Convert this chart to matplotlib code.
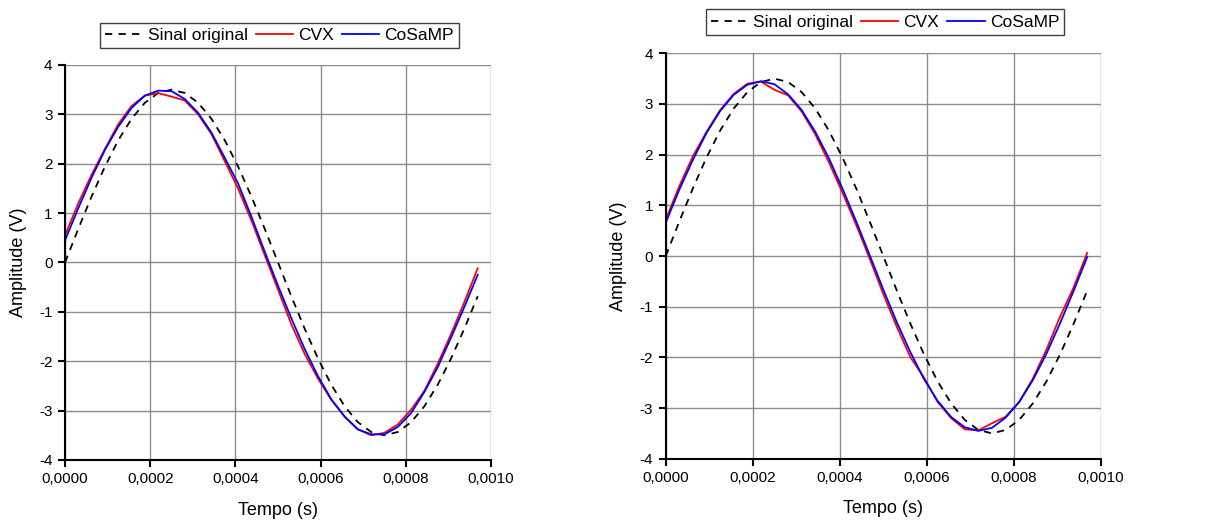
import matplotlib
matplotlib.use("Agg")
import matplotlib.pyplot as plt
from matplotlib.ticker import FuncFormatter, MultipleLocator
import numpy as np

plt.rcParams['font.family'] = ['Liberation Sans', 'DejaVu Sans']
plt.rcParams['axes.unicode_minus'] = False

# sample times (s), step 1/32000
t = np.arange(32) * 0.00003125

# left panel
orig_left = [0.0, 0.683, 1.339, 1.944, 2.475, 2.910, 3.234, 3.433, 3.5, 3.433, 3.234, 2.910,
             2.475, 1.944, 1.339, 0.683, 0.0, -0.683, -1.339, -1.944, -2.475, -2.910, -3.234,
             -3.433, -3.5, -3.433, -3.234, -2.910, -2.475, -1.944, -1.339, -0.683]
cvx_left = [0.55, 1.2, 1.78, 2.3, 2.8, 3.17, 3.38, 3.43, 3.36, 3.28, 3.0, 2.6,
            2.05, 1.5, 0.85, 0.15, -0.55, -1.25, -1.85, -2.35, -2.78, -3.12, -3.38,
            -3.5, -3.45, -3.28, -2.98, -2.6, -2.05, -1.45, -0.8, -0.12]
cosamp_left = [0.45, 1.1, 1.72, 2.28, 2.75, 3.13, 3.38, 3.48, 3.47, 3.31, 3.03, 2.63,
               2.12, 1.6, 0.93, 0.22, -0.47, -1.13, -1.75, -2.3, -2.77, -3.12, -3.38,
               -3.48, -3.48, -3.33, -3.05, -2.62, -2.12, -1.52, -0.9, -0.25]

# right panel
orig_right = orig_left
cvx_right = [0.72, 1.38, 1.97, 2.45, 2.88, 3.2, 3.4, 3.44, 3.28, 3.17, 2.85, 2.4,
             1.85, 1.25, 0.62, -0.05, -0.75, -1.4, -2.0, -2.4, -2.88, -3.2, -3.42,
             -3.44, -3.3, -3.17, -2.88, -2.42, -1.85, -1.2, -0.62, 0.06]
cosamp_right = [0.66, 1.31, 1.9, 2.43, 2.86, 3.18, 3.38, 3.45, 3.39, 3.19, 2.88, 2.45,
                1.93, 1.33, 0.69, 0.015, -0.66, -1.31, -1.9, -2.43, -2.86, -3.18, -3.38,
                -3.45, -3.39, -3.19, -2.88, -2.45, -1.93, -1.33, -0.69, -0.02]

x_fmt = FuncFormatter(lambda v, p: f"{v:.4f}".replace(".", ","))
y_fmt = FuncFormatter(lambda v, p: f"{v:.0f}")


def draw_panel(fig, rect, orig, cvx, cosamp, legend_pos):
    ax = fig.add_axes(rect)
    ax.plot(t, orig, color="black", linestyle=(0, (4, 3.5)), linewidth=1.3, label="Sinal original")
    ax.plot(t, cvx, color="#ff0000", linewidth=1.3, label="CVX")
    ax.plot(t, cosamp, color="#0000ff", linewidth=1.3, label="CoSaMP")

    ax.set_xlim(0, 0.001)
    ax.set_ylim(-4, 4)
    ax.xaxis.set_major_locator(MultipleLocator(0.0002))
    ax.yaxis.set_major_locator(MultipleLocator(1))
    ax.xaxis.set_major_formatter(x_fmt)
    ax.yaxis.set_major_formatter(y_fmt)
    ax.grid(True, color="#8c8c8c", linewidth=1.0)
    ax.set_axisbelow(True)
    for s in ("top", "right"):
        ax.spines[s].set_visible(False)
    for s in ("left", "bottom"):
        ax.spines[s].set_linewidth(1.5)
    ax.tick_params(direction="out", length=5, width=1.5, labelsize=11, pad=4)
    ax.set_xlabel("Tempo (s)", fontsize=13, labelpad=11)
    ax.set_ylabel("Amplitude (V)", fontsize=13, labelpad=9)

    fig.legend(*ax.get_legend_handles_labels(), loc="center", bbox_to_anchor=legend_pos,
               ncol=3, fontsize=12.5, frameon=True, fancybox=False, edgecolor="#404040",
               framealpha=1, handlelength=2.15, columnspacing=0.45, handletextpad=0.3,
               borderpad=0.3, borderaxespad=0)
    return ax


fig = plt.figure(figsize=(12.22, 5.30), dpi=100)
draw_panel(fig, [0.0532, 0.1321, 0.3486, 0.7453], orig_left, cvx_left, cosamp_left, (0.2287, 0.933))
draw_panel(fig, [0.5448, 0.1345, 0.356, 0.7649], orig_right, cvx_right, cosamp_right, (0.7242, 0.958))

fig.savefig("out.png", dpi=100)
